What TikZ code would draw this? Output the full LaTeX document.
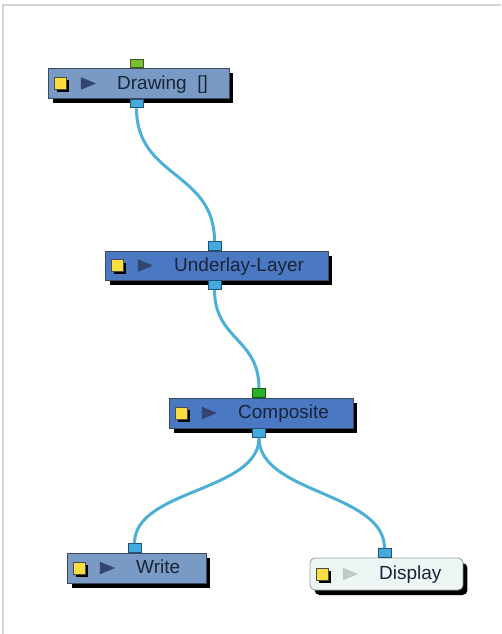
\documentclass[tikz,border=0pt]{standalone}
\usepackage{fontspec}
\setmainfont{Liberation Sans}
\usepackage{xcolor}
\usepackage{tikz}
\usetikzlibrary{shapes.geometric, shadows, positioning}
\definecolor{frameColor}{RGB}{212,212,212}
\definecolor{edgeColor}{RGB}{58,72,96}
\definecolor{paleBlue}{RGB}{122,154,198}
\definecolor{deepBlue}{RGB}{74,120,194}
\definecolor{offWhite}{RGB}{238,245,245}
\definecolor{offEdge}{RGB}{150,160,165}
\definecolor{wireColor}{RGB}{76,176,214}
\definecolor{portBlue}{RGB}{66,170,220}
\definecolor{portEdge}{RGB}{30,80,120}
\definecolor{portLime}{RGB}{120,190,48}
\definecolor{portGreen}{RGB}{40,176,40}
\definecolor{flagYellow}{RGB}{250,222,64}
\definecolor{arrowHead}{RGB}{52,70,112}
\definecolor{arrowGrey}{RGB}{192,200,200}
\definecolor{labelColor}{RGB}{26,36,56}
\tikzstyle{module} = [rectangle, draw=edgeColor, line width=0.5pt, inner sep=0pt, drop shadow={fill=black, opacity=1, shadow xshift=0.9mm, shadow yshift=-1mm}]
\tikzstyle{port} = [rectangle, draw=portEdge, line width=0.5pt, minimum width=2.6mm, minimum height=1.7mm, inner sep=0pt, fill=portBlue]
\tikzstyle{flag} = [rectangle, draw=black!70, line width=0.3pt, fill=flagYellow, minimum size=2.4mm, inner sep=0pt, drop shadow={fill=black, opacity=1, shadow xshift=0.6mm, shadow yshift=-0.6mm}]
\tikzstyle{play} = [isosceles triangle, isosceles triangle stretches, fill=arrowHead, minimum width=2.5mm, minimum height=3mm, inner sep=0pt]
\tikzstyle{title} = [inner sep=0pt, text=labelColor, text height=1.6ex, text depth=0.4ex, font=\fontsize{10.8}{12}\selectfont]
\tikzstyle{wire} = [line width=0.6mm, wireColor]
\tikzstyle{frame} = [line width=0.4mm, frameColor]

\begin{document}
\begin{tikzpicture}[x=0.02cm, y=-0.02cm]
        \useasboundingbox (0,0) rectangle (501,634);
        \draw [frame] (3,634) -- (3,5) -- (501,5);

        % modules
        \node (drawing) [module, fill=paleBlue, minimum width=36.2mm, minimum height=6mm] at (138.5,83.5) {};
        \node (underlay) [module, fill=deepBlue, minimum width=44.6mm, minimum height=5.8mm] at (216.5,265.5) {};
        \node (composite) [module, fill=deepBlue, minimum width=36.8mm, minimum height=6mm] at (261,413) {};
        \node (write) [module, fill=paleBlue, minimum width=27.8mm, minimum height=6mm] at (136.5,568) {};
        \node (display) [module, fill=offWhite, draw=offEdge, rounded corners=1mm, minimum width=30.6mm, minimum height=6.4mm] at (386.5,574) {};

        % flags, play buttons and names
        \node (drawingFlag) [flag, right=1.2mm of drawing.west] {};
        \node (drawingPlay) [play, right=2.9mm of drawingFlag] {};
        \node (drawingText) [title, right=4mm of drawingPlay] {Drawing~~[]};

        \node (underlayFlag) [flag, right=1.2mm of underlay.west] {};
        \node (underlayPlay) [play, right=2.9mm of underlayFlag] {};
        \node (underlayText) [title, right=4mm of underlayPlay] {Underlay-Layer};

        \node (compositeFlag) [flag, right=1.2mm of composite.west] {};
        \node (compositePlay) [play, right=2.9mm of compositeFlag] {};
        \node (compositeText) [title, right=4mm of compositePlay] {Composite};

        \node (writeFlag) [flag, right=1.2mm of write.west] {};
        \node (writePlay) [play, right=2.9mm of writeFlag] {};
        \node (writeText) [title, right=4mm of writePlay] {Write};

        \node (displayFlag) [flag, right=1.2mm of display.west] {};
        \node (displayPlay) [play, fill=arrowGrey, right=2.9mm of displayFlag] {};
        \node (displayText) [title, right=4mm of displayPlay] {Display};

        % ports
        \node (drawingIn) [port, fill=portLime, draw=portLime!50!black, above=0pt of drawing.north, xshift=-0.4mm] {};
        \node (drawingOut) [port, below=0pt of drawing.south, xshift=-0.4mm] {};
        \node (underlayIn) [port, above=0pt of underlay.north, xshift=-0.4mm] {};
        \node (underlayOut) [port, below=0pt of underlay.south, xshift=-0.4mm] {};
        \node (compositeIn) [port, fill=portGreen, draw=portGreen!50!black, above=0pt of composite.north, xshift=-0.4mm] {};
        \node (compositeOut) [port, below=0pt of composite.south, xshift=-0.4mm] {};
        \node (writeIn) [port, above=0pt of write.north, xshift=-0.4mm] {};
        \node (displayIn) [port, above=0pt of display.north, xshift=-0.4mm] {};

        % cables
        \draw [wire] (drawingOut.south) .. controls +(0,70) and +(0,-70) .. (underlayIn.north);
        \draw [wire] (underlayOut.south) .. controls +(0,50) and +(0,-50) .. (compositeIn.north);
        \draw [wire] (compositeOut.south) .. controls +(0,54) and +(0,-54) .. (writeIn.north);
        \draw [wire] (compositeOut.south) .. controls +(0,56) and +(0,-56) .. (displayIn.north);
    \end{tikzpicture}
\end{document}
